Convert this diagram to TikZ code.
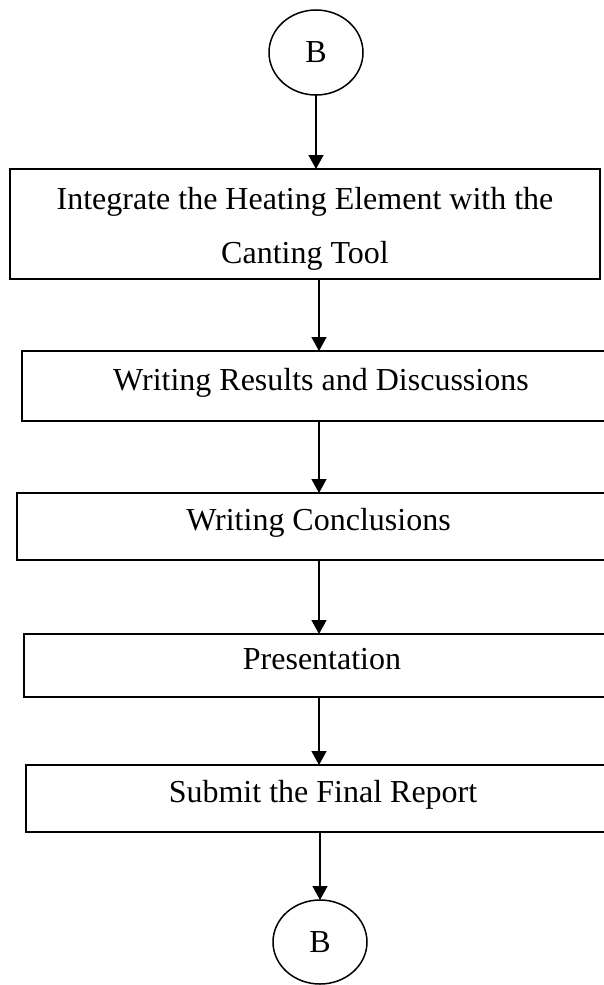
\documentclass[tikz,border=0pt]{standalone}
\usepackage{fontspec}
\setmainfont{Liberation Serif}
\usetikzlibrary{shapes.geometric,arrows.meta}
\begin{document}
\begin{tikzpicture}[x=1pt,y=-1pt,inner sep=0pt,outer sep=0pt,line width=1.5pt,
>={Triangle[length=14pt,width=15pt]},
font=\fontsize{32}{54}\selectfont,
connector/.style={draw,ellipse,minimum width=94pt,minimum height=85pt},
flowbox/.style={draw,rectangle,align=center},
taskbox/.style={flowbox,text height=22pt,text depth=14pt}]
\useasboundingbox (0,0) rectangle (603,985);
\draw (316,52.5) node[connector] (topB) {B};
\draw (305,224) node[flowbox,minimum width=590pt,minimum height=110pt] (integrate) {\rule{0pt}{32pt}Integrate the Heating Element with the\\Canting Tool};
\draw (321,386) node[taskbox,minimum width=598pt,minimum height=70pt] (results) {Writing Results and Discussions};
\draw (318.5,526.5) node[taskbox,minimum width=603pt,minimum height=67pt] (conclusions) {Writing Conclusions};
\draw (322,665.5) node[taskbox,minimum width=596pt,minimum height=63pt] (presentation) {Presentation};
\draw (323,798.5) node[taskbox,minimum width=594pt,minimum height=67pt] (submit) {Submit the Final Report};
\draw (320,942) node[connector,minimum height=84pt] (botB) {B};

\coordinate (spine) at (319,0);
\draw[->] (topB.south) -- (topB.south |- integrate.north);
\draw[->] (spine |- integrate.south) -- (spine |- results.north);
\draw[->] (spine |- results.south) -- (spine |- conclusions.north);
\draw[->] (spine |- conclusions.south) -- (spine |- presentation.north);
\draw[->] (spine |- presentation.south) -- (spine |- submit.north);
\draw[->] (botB.north |- submit.south) -- (botB.north);
\end{tikzpicture}
\end{document}
